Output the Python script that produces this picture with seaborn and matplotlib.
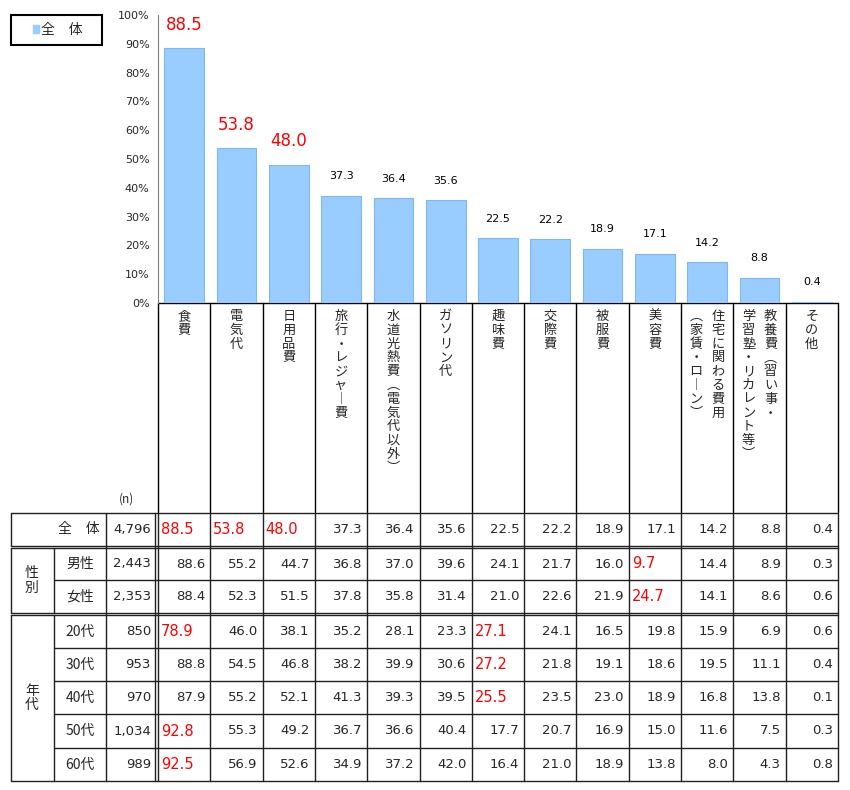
import numpy as np
import pandas as pd
import matplotlib
matplotlib.use('Agg')
import matplotlib.pyplot as plt
import seaborn as sns

sns.set_style('white')
plt.rcParams['font.family'] = ['Noto Sans CJK JP', 'DejaVu Sans']

# データ
categories = ['食費', '電気代', '日用品費', '旅行・レジャー費', '水道光熱費（電気代以外）',
              'ガソリン代', '趣味費', '交際費', '被服費', '美容費',
              '住宅に関わる費用（家賃・ローン）', '教養費（習い事・学習塾・リカレント等）', 'その他']
# 縦書き用の列（右から左）
vertical_cols = [['食費'], ['電気代'], ['日用品費'], ['旅行・レジャー費'], ['水道光熱費（電気代以外）'],
                 ['ガソリン代'], ['趣味費'], ['交際費'], ['被服費'], ['美容費'],
                 ['住宅に関わる費用', '（家賃・ローン）'], ['教養費（習い事・', '学習塾・リカレント等）'],
                 ['その他']]
total = [88.5, 53.8, 48.0, 37.3, 36.4, 35.6, 22.5, 22.2, 18.9, 17.1, 14.2, 8.8, 0.4]
highlight_top = 3

row_labels = ['男性', '女性', '20代', '30代', '40代', '50代', '60代']
row_n = ['2,443', '2,353', '850', '953', '970', '1,034', '989']
total_n = '4,796'
male = [88.6, 55.2, 44.7, 36.8, 37.0, 39.6, 24.1, 21.7, 16.0, 9.7, 14.4, 8.9, 0.3]
female = [88.4, 52.3, 51.5, 37.8, 35.8, 31.4, 21.0, 22.6, 21.9, 24.7, 14.1, 8.6, 0.6]
age20 = [78.9, 46.0, 38.1, 35.2, 28.1, 23.3, 27.1, 24.1, 16.5, 19.8, 15.9, 6.9, 0.6]
age30 = [88.8, 54.5, 46.8, 38.2, 39.9, 30.6, 27.2, 21.8, 19.1, 18.6, 19.5, 11.1, 0.4]
age40 = [87.9, 55.2, 52.1, 41.3, 39.3, 39.5, 25.5, 23.5, 23.0, 18.9, 16.8, 13.8, 0.1]
age50 = [92.8, 55.3, 49.2, 36.7, 36.6, 40.4, 17.7, 20.7, 16.9, 15.0, 11.6, 7.5, 0.3]
age60 = [92.5, 56.9, 52.6, 34.9, 37.2, 42.0, 16.4, 21.0, 18.9, 13.8, 8.0, 4.3, 0.8]
rows = [male, female, age20, age30, age40, age50, age60]
# 赤字セル (行, 列)
red_cells = {(0, 9), (1, 9), (2, 0), (2, 6), (3, 6), (4, 6), (5, 0), (6, 0)}

W, H = 850, 790
fig = plt.figure(figsize=(W / 100, H / 100), dpi=100)

# 全体を覆う描画用の軸（ピクセル座標）
ov = fig.add_axes([0, 0, 1, 1])
ov.set_xlim(0, W)
ov.set_ylim(H, 0)
ov.axis('off')

x0, x1 = 158, 838
col_edges = np.linspace(x0, x1, len(categories) + 1)
cw = col_edges[1] - col_edges[0]

# 棒グラフ
ax = fig.add_axes([x0 / W, 1 - 303 / H, (x1 - x0) / W, (303 - 15) / H])
ax.patch.set_alpha(0)
df = pd.DataFrame({'cat': categories, 'val': total})
sns.barplot(data=df, x='cat', y='val', color='#99CCFF', saturation=1, width=0.76,
            edgecolor='#7DB8F0', linewidth=0.8, ax=ax)
ax.set_xlim(-0.5, len(categories) - 0.5)
ax.set_ylim(0, 100)
ax.set_yticks(np.arange(0, 101, 10))
ax.set_yticklabels([f'{v}%' for v in range(0, 101, 10)], fontsize=8, family='DejaVu Sans')
ax.tick_params(axis='y', length=4, width=0.8, color='#808080', pad=2)
ax.set_xticks([])
ax.set_xlabel('')
ax.set_ylabel('')
for s in ['top', 'right', 'bottom']:
    ax.spines[s].set_visible(False)
ax.spines['left'].set_color('#808080')
for i, v in enumerate(total):
    if i < highlight_top:
        ax.text(i, v + 5, f'{v:.1f}', ha='center', va='bottom', color='red', fontsize=12,
                family='DejaVu Sans')
    else:
        ax.text(i, v + 5, f'{v:.1f}', ha='center', va='bottom', color='black', fontsize=8,
                family='DejaVu Sans')

# 凡例
ov.add_patch(plt.Rectangle((11, 15), 91, 30, fill=False, ec='black', lw=1.5))
ov.add_patch(plt.Rectangle((33, 25), 6, 8, color='#99CCFF'))
ov.text(41, 30, '全　体', fontsize=10, va='center', ha='left')

# 縦書き
vmap = {'（': '︵', '）': '︶', 'ー': '︱'}
def vtext(s):
    return '\n'.join(vmap.get(c, c) for c in s)

for i, cols in enumerate(vertical_cols):
    cx = col_edges[i] + cw / 2
    n = len(cols)
    for j, c in enumerate(cols):
        xx = cx + (n - 1) * 11 - j * 22
        ov.text(xx, 310, vtext(c), ha='center', va='top', fontsize=9.5, linespacing=1.08,
                multialignment='center')

# 表の枠線
hdr_top, hdr_bot = 303, 512
for e in col_edges:
    ov.plot([e, e], [hdr_top, hdr_bot], color='black', lw=1)
ov.plot([x0, x1], [hdr_top, hdr_top], color='black', lw=1)
ov.text(127, 506, '(n)', ha='center', va='bottom', fontsize=8.5)

g2 = [615, 648, 681, 714, 748, 781]
lc = '#202020'

def hline(y, xa, xb, lw=1):
    ov.plot([xa, xb], [y, y], color=lc, lw=lw)

def vline(x, ya, yb, lw=1):
    ov.plot([x, x], [ya, yb], color=lc, lw=lw)

# 横線
for y in [513, 546, 548, 613, 615, 781]:
    hline(y, 11, x1)
hline(580, 54, x1)
for y in g2[1:-1]:
    hline(y, 54, x1)
# 縦線
vline(11, 513, 546); vline(11, 548, 613); vline(11, 615, 781)
vline(54, 548, 613); vline(54, 615, 781)
vline(106, 513, 781)
vline(155, 513, 781)
for e in col_edges:
    vline(e, 513, 781)

fs = 9.5
def draw_row(yt, yb, n, vals, ridx):
    ym = (yt + yb) / 2
    ov.text(151, ym, n, ha='right', va='center', fontsize=fs, family='DejaVu Sans')
    for j, v in enumerate(vals):
        red = (ridx is None and j < highlight_top) or ((ridx, j) in red_cells)
        if red:
            ov.text(col_edges[j] + 3, ym, f'{v:.1f}', ha='left', va='center', fontsize=10.5,
                    color='red', family='DejaVu Sans')
        else:
            ov.text(col_edges[j + 1] - 5, ym, f'{v:.1f}', ha='right', va='center', fontsize=fs,
                    family='DejaVu Sans')

ov.text(100, 529.5, '全　体', ha='right', va='center', fontsize=10)
draw_row(513, 546, total_n, total, None)
bounds = [(548, 580), (580, 613)] + list(zip(g2[:-1], g2[1:]))
for k, (yt, yb) in enumerate(bounds):
    ov.text(80, (yt + yb) / 2, row_labels[k], ha='center', va='center', fontsize=10)
    draw_row(yt, yb, row_n[k], rows[k], k)
ov.text(32, 580.5, '性\n別', ha='center', va='center', fontsize=10, linespacing=1.0)
ov.text(32, 698, '年\n代', ha='center', va='center', fontsize=10, linespacing=1.0)

fig.savefig('out.png', dpi=100, facecolor='white')
